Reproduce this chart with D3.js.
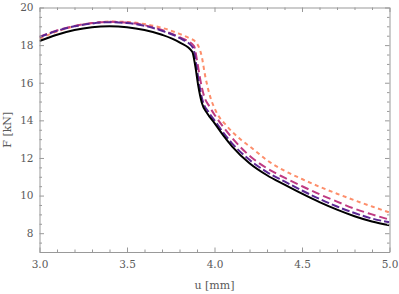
<!DOCTYPE html>
<html>
<head>
<meta charset="utf-8">
<script src="https://cdn.jsdelivr.net/npm/d3@7"></script>
<style>
  body { margin: 0; background: #fff; }
  svg { display: block; }
  .tick-label { font-family: "DejaVu Serif", "Liberation Serif", serif; font-size: 10.5px; }
  .axis-label { font-family: "DejaVu Serif", "Liberation Serif", serif; font-size: 11px; }
</style>
</head>
<body>
<div id="chart"></div>
<script>
// displacement u [mm] and force F [kN] for each curve
const blackU = [3.0, 3.1, 3.2, 3.3, 3.4, 3.5, 3.6, 3.7, 3.8, 3.873, 3.89, 3.907, 3.927, 3.96, 4.0, 4.05, 4.1, 4.2, 4.3, 4.4, 4.5, 4.6, 4.7, 4.8, 4.9, 5.0];
const blackF = [18.22, 18.55, 18.8, 18.95, 19.0, 18.95, 18.8, 18.55, 18.15, 17.65, 16.9, 15.85, 14.95, 14.35, 13.85, 13.2, 12.62, 11.72, 11.08, 10.58, 10.1, 9.65, 9.25, 8.9, 8.62, 8.42];

const purpleU = [3.0, 3.1, 3.2, 3.3, 3.4, 3.5, 3.6, 3.7, 3.8, 3.878, 3.895, 3.912, 3.932, 3.965, 4.0, 4.05, 4.1, 4.2, 4.3, 4.4, 4.5, 4.6, 4.7, 4.8, 4.9, 5.0];
const purpleF = [18.42, 18.76, 19.0, 19.15, 19.22, 19.17, 19.03, 18.76, 18.38, 17.85, 17.0, 15.95, 15.05, 14.45, 14.0, 13.35, 12.78, 11.9, 11.25, 10.75, 10.27, 9.82, 9.42, 9.07, 8.78, 8.58];

const magentaU = [3.0, 3.1, 3.2, 3.3, 3.4, 3.5, 3.6, 3.7, 3.8, 3.883, 3.9, 3.918, 3.94, 3.97, 4.0, 4.05, 4.1, 4.2, 4.3, 4.4, 4.5, 4.6, 4.7, 4.8, 4.9, 5.0];
const magentaF = [18.45, 18.78, 19.02, 19.17, 19.24, 19.2, 19.06, 18.8, 18.42, 17.95, 17.2, 16.2, 15.3, 14.75, 14.3, 13.65, 13.07, 12.12, 11.45, 10.95, 10.5, 10.07, 9.68, 9.3, 9.0, 8.72];

const orangeU = [3.0, 3.1, 3.2, 3.3, 3.4, 3.5, 3.6, 3.7, 3.8, 3.86, 3.889, 3.927, 3.946, 3.974, 4.01, 4.07, 4.15, 4.22, 4.3, 4.4, 4.5, 4.6, 4.7, 4.8, 4.9, 5.0];
const orangeF = [18.35, 18.72, 19.0, 19.17, 19.25, 19.23, 19.12, 18.92, 18.6, 18.35, 18.2, 17.4, 16.4, 15.3, 14.45, 13.7, 12.98, 12.48, 11.88, 11.32, 10.88, 10.47, 10.1, 9.75, 9.42, 9.1];

const xMajor = [3.0, 3.5, 4.0, 4.5, 5.0];
const yMajor = [8, 10, 12, 14, 16, 18, 20];

const series = [
    { u: orangeU, f: orangeF, color: '#fd8e6b', dash: '4,3.5' },
    { u: magentaU, f: magentaF, color: '#bf3a82', dash: '8,4' },
    { u: purpleU, f: purpleF, color: '#5b2793', dash: '8,3' },
    { u: blackU, f: blackF, color: '#000', dash: null }
];

const width = 399, height = 294;
const margin = { top: 7.5, right: 9.5, bottom: 42, left: 39.5 };
const innerW = width - margin.left - margin.right;
const innerH = height - margin.top - margin.bottom;
const textColor = '#5a5a5a';

const svg = d3.select('#chart').append('svg')
    .attr('width', width)
    .attr('height', height);

const x = d3.scaleLinear().domain([3, 5]).range([margin.left, margin.left + innerW]);
const y = d3.scaleLinear().domain([7, 20]).range([margin.top + innerH, margin.top]);

svg.append('clipPath').attr('id', 'clip')
    .append('rect')
    .attr('x', margin.left).attr('y', margin.top)
    .attr('width', innerW).attr('height', innerH);

const line = d3.line()
    .x(d => x(d[0]))
    .y(d => y(d[1]))
    .curve(d3.curveMonotoneX);

series.forEach(s => {
    svg.append('path')
        .datum(s.u.map((u, i) => [u, s.f[i]]))
        .attr('clip-path', 'url(#clip)')
        .attr('fill', 'none')
        .attr('stroke', s.color)
        .attr('stroke-width', 2)
        .attr('stroke-dasharray', s.dash)
        .attr('d', line);
});

// frame with ticks on every side
const frameColor = '#999';
const xMinor = d3.range(30, 51).map(v => v / 10).filter(v => !xMajor.some(m => Math.abs(m - v) < 1e-9));
const yMinor = d3.range(14, 41).map(v => v / 2).filter(v => !yMajor.includes(v));

function drawSide(makeAxis, pos, major, minor, fmt) {
    const gMinor = svg.append('g').attr('transform', pos)
        .call(makeAxis().tickValues(minor).tickSizeInner(-2.5).tickSizeOuter(0).tickFormat(() => ''));
    gMinor.select('.domain').remove();
    gMinor.selectAll('line').attr('stroke', frameColor);

    const g = svg.append('g').attr('transform', pos)
        .call(makeAxis().tickValues(major).tickSizeInner(-4.5).tickSizeOuter(0)
            .tickFormat(fmt || (() => '')));
    g.select('.domain').attr('stroke', frameColor);
    g.selectAll('line').attr('stroke', frameColor);
    g.attr('font-size', null).attr('font-family', null);
    g.selectAll('text').attr('class', 'tick-label').attr('fill', textColor);
    return g;
}

const gx = drawSide(() => d3.axisBottom(x), `translate(0,${margin.top + innerH})`, xMajor, xMinor, d3.format('.1f'));
gx.selectAll('text').attr('y', 9);
drawSide(() => d3.axisTop(x), `translate(0,${margin.top})`, xMajor, xMinor, null);
const gy = drawSide(() => d3.axisLeft(y), `translate(${margin.left},0)`, yMajor, yMinor, d3.format('d'));
gy.selectAll('text').attr('x', -6);
drawSide(() => d3.axisRight(y), `translate(${margin.left + innerW},0)`, yMajor, yMinor, null);

svg.append('text')
    .attr('class', 'axis-label')
    .attr('fill', textColor)
    .attr('x', margin.left + innerW / 2)
    .attr('y', 289)
    .attr('text-anchor', 'middle')
    .text('u [mm]');

svg.append('text')
    .attr('class', 'axis-label')
    .attr('fill', textColor)
    .attr('transform', `translate(11,${margin.top + innerH / 2}) rotate(-90)`)
    .attr('text-anchor', 'middle')
    .text('F [kN]');
</script>
</body>
</html>
